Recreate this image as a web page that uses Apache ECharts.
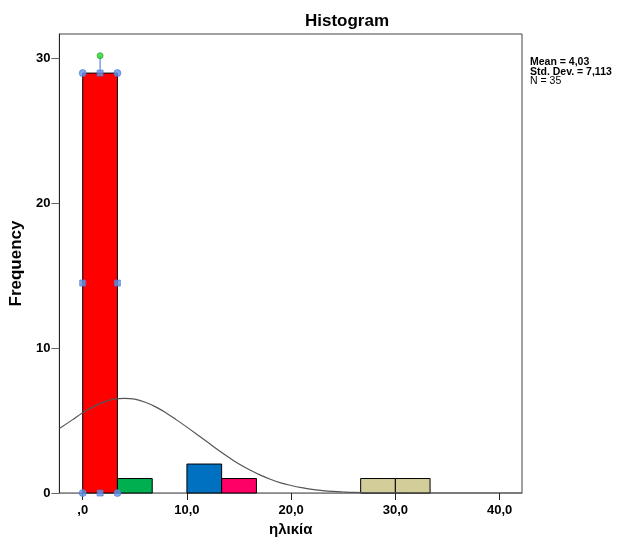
<!DOCTYPE html>
<html>
<head>
<meta charset="utf-8">
<script src="https://cdn.jsdelivr.net/npm/echarts@6/dist/echarts.min.js"></script>
<style>
  html, body { margin: 0; padding: 0; background: #fff; }
  #chart { width: 623px; height: 543px; }
</style>
</head>
<body>
<div id="chart"></div>
<script>
// histogram bins (ηλικία)
var binEdges = [0, 3.33, 6.67, 10, 13.33, 16.67, 20, 23.33, 26.67, 30, 33.33];
var counts   = [29, 1, 0, 2, 1, 0, 0, 0, 1, 1];
var binColors = ['#FF0000', '#00B050', '#FFFFFF', '#0070C0', '#FF0066', '#FFFFFF', '#FFFFFF', '#FFFFFF', '#D3CE99', '#D3CE99'];

// normal curve
var curveX = [-2.24, -1, 0, 1, 2, 3, 4, 5, 6, 7, 8, 9, 10, 11, 12, 13, 14, 15, 16, 17, 18, 19, 20, 21, 22, 23, 24, 25, 26, 28, 30, 35, 42.15];
var curveY = [4.45, 5.05, 5.55, 5.95, 6.28, 6.48, 6.54, 6.48, 6.27, 5.95, 5.53, 5.05, 4.55, 4.03, 3.5, 2.97, 2.47, 2.0, 1.6, 1.25, 0.95, 0.7, 0.52, 0.37, 0.25, 0.17, 0.11, 0.07, 0.04, 0.015, 0.005, 0, 0];

var xTicks = [0, 10, 20, 30, 40];
var yTicks = [0, 10, 20, 30];

// selection handles left around the first bar
var handleCircles = [[0, 29], [3.33, 29], [0, 0], [3.33, 0]];
var handleSquares = [[1.67, 29], [1.67, 0], [0, 14.5], [3.33, 14.5]];
var rotateLine = [[1.67, 29], [1.67, 30.2]];
var rotateKnob = [[1.67, 30.2]];

var FONT = 'Liberation Sans';

var bins = counts.map(function (c, i) { return [binEdges[i], binEdges[i + 1], c, i]; });

var chart = echarts.init(document.getElementById('chart'));

chart.setOption({
  animation: false,
  backgroundColor: '#fff',
  title: {
    text: 'Histogram',
    left: 342, top: 8,
    textAlign: 'center',
    textStyle: { fontFamily: FONT, fontSize: 17, fontWeight: 'bold', color: '#000' }
  },
  graphic: [{
    type: 'text',
    left: 530, top: 57,
    style: {
      text: '{b|Mean = 4,03}\n{b|Std. Dev. = 7,113}\n{n|N = 35}',
      rich: {
        b: { fontFamily: FONT, fontSize: 10.5, fontWeight: 'bold', color: '#000', lineHeight: 9.5 },
        n: { fontFamily: FONT, fontSize: 10.5, color: '#000', lineHeight: 9.5 }
      }
    }
  }],
  grid: {
    left: 58, right: 101, top: 34, bottom: 50,
    show: true, borderColor: '#444', borderWidth: 1
  },
  xAxis: {
    type: 'value',
    min: -2.24, max: 42.15,
    name: 'ηλικία',
    nameLocation: 'middle',
    nameGap: 29,
    nameTextStyle: { fontFamily: FONT, fontSize: 15, fontWeight: 'bold', color: '#000' },
    axisLine: { show: true, onZero: false, lineStyle: { color: '#888', width: 1 } },
    axisTick: { show: true, length: 7, customValues: xTicks, lineStyle: { color: '#222' } },
    axisLabel: {
      customValues: xTicks,
      margin: 11,
      fontFamily: FONT, fontSize: 13, fontWeight: 'bold', color: '#000',
      formatter: function (v) { return v === 0 ? ',0' : v.toFixed(1).replace('.', ','); }
    },
    splitLine: { show: false }
  },
  yAxis: {
    type: 'value',
    min: 0, max: 31.7,
    name: 'Frequency',
    nameLocation: 'middle',
    nameGap: 33,
    nameTextStyle: { fontFamily: FONT, fontSize: 17, fontWeight: 'bold', color: '#000' },
    axisLine: { show: true, onZero: false, lineStyle: { color: '#222' } },
    axisTick: { show: true, length: 8, customValues: yTicks, lineStyle: { color: '#666' } },
    axisLabel: {
      customValues: yTicks,
      margin: 9,
      fontFamily: FONT, fontSize: 13, fontWeight: 'bold', color: '#000'
    },
    splitLine: { show: false }
  },
  series: [
    {
      type: 'custom',
      data: bins,
      z: 2,
      renderItem: function (params, api) {
        var c = api.value(2);
        if (!c) return null;
        var p0 = api.coord([api.value(0), c]);
        var p1 = api.coord([api.value(1), 0]);
        return {
          type: 'rect',
          shape: { x: p0[0], y: p0[1], width: p1[0] - p0[0], height: p1[1] - p0[1] },
          style: { fill: binColors[api.value(3)], stroke: '#000', lineWidth: 1 }
        };
      }
    },
    {
      type: 'line',
      data: curveX.map(function (x, i) { return [x, curveY[i]]; }),
      smooth: 0.4,
      showSymbol: false,
      z: 3,
      lineStyle: { color: '#555', width: 1.2 }
    },
    {
      type: 'line',
      data: rotateLine,
      showSymbol: false,
      z: 4,
      lineStyle: { color: '#5B8BD6', width: 1.2 }
    },
    {
      type: 'scatter',
      data: handleCircles,
      symbol: 'circle', symbolSize: 7,
      z: 5,
      itemStyle: { color: '#6495ED', borderColor: '#4A78C8', borderWidth: 0.8 }
    },
    {
      type: 'scatter',
      data: handleSquares,
      symbol: 'rect', symbolSize: 6,
      z: 5,
      itemStyle: { color: '#6495ED', borderColor: '#4A78C8', borderWidth: 0.8 }
    },
    {
      type: 'scatter',
      data: rotateKnob,
      symbol: 'circle', symbolSize: 6,
      z: 5,
      itemStyle: { color: '#22DD22', borderColor: '#2A8A2A', borderWidth: 0.8 }
    }
  ]
});
</script>
</body>
</html>
